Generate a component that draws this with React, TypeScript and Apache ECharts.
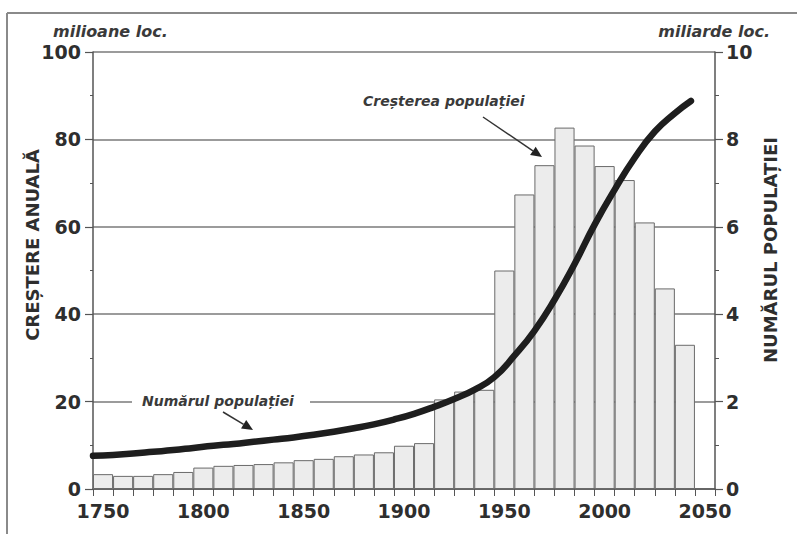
import React, { useEffect, useRef } from "react";
import * as echarts from "echarts";

const years = [
  "1750", "1760", "1770", "1780", "1790", "1800", "1810", "1820", "1830", "1840",
  "1850", "1860", "1870", "1880", "1890", "1900", "1910", "1920", "1930", "1940",
  "1950", "1960", "1970", "1980", "1990", "2000", "2010", "2020", "2030", "2040", "2050",
];
// annual growth, millions of people (left axis)
const growth = [
  3.4, 3.0, 3.0, 3.4, 3.9, 4.9, 5.3, 5.5, 5.7, 6.1,
  6.6, 6.9, 7.5, 7.9, 8.4, 9.9, 10.5, 20.5, 22.3, 22.7,
  50.0, 67.4, 74.1, 82.7, 78.6, 73.9, 70.7, 61.0, 45.9, 33.0,
];
// population, billions (right axis)
const popYears = [
  1745, 1755, 1765, 1775, 1785, 1795, 1805, 1815, 1825, 1835,
  1845, 1855, 1865, 1875, 1885, 1895, 1905, 1915, 1925, 1935,
  1945, 1955, 1965, 1975, 1985, 1995, 2005, 2015, 2025, 2035, 2043,
];
const popValues = [
  0.76, 0.78, 0.81, 0.85, 0.89, 0.94, 0.99, 1.03, 1.08, 1.13,
  1.18, 1.24, 1.31, 1.39, 1.48, 1.59, 1.72, 1.88, 2.06, 2.27,
  2.56, 3.05, 3.62, 4.33, 5.15, 6.05, 6.85, 7.58, 8.18, 8.6, 8.88,
];
const leftTicks = [0, 20, 40, 60, 80, 100];
const rightTicks = [0, 2, 4, 6, 8, 10];

const FONT = "'DejaVu Sans', 'Liberation Sans', Arial, sans-serif";
const TXT = "#2e2e2e";

export default function App() {
  const ref = useRef<HTMLDivElement>(null);
  useEffect(() => {
    document.body.style.margin = "0";
    const chart = echarts.init(ref.current!, null, { renderer: "svg" });
    const labelStyle = { fontFamily: FONT, fontWeight: "bold" as const, fontSize: 19, color: TXT };
    const annot = { fontFamily: FONT, fontWeight: "bold" as const, fontStyle: "italic" as const, fill: "#3a3a3a" };
    chart.setOption({
      animation: false,
      backgroundColor: "#ffffff",
      grid: { left: 93, right: 82, top: 52, bottom: 45, containLabel: false },
      xAxis: [
        {
          type: "category",
          data: years,
          boundaryGap: true,
          axisLine: { lineStyle: { color: "#555", width: 1.5 } },
          axisTick: { show: true, interval: 0, length: 7, lineStyle: { color: "#555", width: 1 } },
          axisLabel: { ...labelStyle, interval: 4, margin: 12 },
          splitLine: { show: false },
        },
        {
          type: "value",
          min: 1745,
          max: 2055,
          show: false,
        },
      ],
      yAxis: [
        {
          type: "value",
          min: 0,
          max: 100,
          interval: 20,
          position: "left",
          axisLine: { show: true, lineStyle: { color: "#555", width: 1.5 } },
          axisTick: { show: true, length: 8, lineStyle: { color: "#555", width: 1.2 } },
          minorTick: { show: true, splitNumber: 2, length: 3, lineStyle: { color: "#555" } },
          axisLabel: { ...labelStyle, margin: 12, formatter: (v: number) => (leftTicks.includes(v) ? String(v) : "") },
          splitLine: { show: true, lineStyle: { color: "#7a7a7a", width: 1.5 } },
        },
        {
          type: "value",
          min: 0,
          max: 10,
          interval: 2,
          position: "right",
          axisLine: { show: true, lineStyle: { color: "#555", width: 1.5 } },
          axisTick: { show: true, length: 8, lineStyle: { color: "#555", width: 1.2 } },
          minorTick: { show: true, splitNumber: 2, length: 4, lineStyle: { color: "#555" } },
          axisLabel: { ...labelStyle, margin: 11, formatter: (v: number) => (rightTicks.includes(v) ? String(v) : "") },
          splitLine: { show: false },
        },
      ],
      series: [
        {
          type: "bar",
          xAxisIndex: 0,
          yAxisIndex: 0,
          data: growth,
          barCategoryGap: "0%",
          barGap: "0%",
          itemStyle: { color: "#ececec", borderColor: "#6a6a6a", borderWidth: 1 },
        },
        {
          type: "line",
          xAxisIndex: 1,
          yAxisIndex: 1,
          data: popYears.map((y, i) => [y, popValues[i]]),
          smooth: 0.5,
          symbol: "none",
          lineStyle: { color: "#1e1e1e", width: 6.5, cap: "round", join: "round" },
          z: 5,
        },
      ],
      graphic: [
        { type: "line", shape: { x1: 7, y1: 13, x2: 797, y2: 13 }, style: { stroke: "#8a8a8a", lineWidth: 2 } },
        { type: "line", shape: { x1: 7, y1: 13, x2: 7, y2: 534 }, style: { stroke: "#8a8a8a", lineWidth: 2 } },
        {
          type: "text", x: 53, y: 31,
          style: { text: "milioane loc.", ...annot, fontSize: 16, textAlign: "left", textVerticalAlign: "middle" },
        },
        {
          type: "text", x: 770, y: 31,
          style: { text: "miliarde loc.", ...annot, fontSize: 16, textAlign: "right", textVerticalAlign: "middle" },
        },
        {
          type: "text", x: 32, y: 245, rotation: Math.PI / 2,
          style: { text: "CREȘTERE ANUALĂ", fontFamily: FONT, fontWeight: "bold", fontSize: 18, fill: TXT, textAlign: "center", textVerticalAlign: "middle" },
        },
        {
          type: "text", x: 770, y: 250, rotation: Math.PI / 2,
          style: { text: "NUMĂRUL POPULAȚIEI", fontFamily: FONT, fontWeight: "bold", fontSize: 18, fill: TXT, textAlign: "center", textVerticalAlign: "middle" },
        },
        { type: "rect", shape: { x: 132, y: 393, width: 178, height: 16 }, style: { fill: "#ffffff" }, z: 10 },
        {
          type: "text", x: 142, y: 401, z: 11,
          style: { text: "Numărul populației", ...annot, fontSize: 14, textAlign: "left", textVerticalAlign: "middle" },
        },
        { type: "line", shape: { x1: 223, y1: 412, x2: 243.6, y2: 424.3 }, style: { stroke: "#333", lineWidth: 1.5 }, z: 11 },
        { type: "polygon", shape: { points: [[253, 430], [241, 428.6], [246.2, 420]] }, style: { fill: "#222" }, z: 11 },
        {
          type: "text", x: 363, y: 101, z: 11,
          style: { text: "Creșterea populației", ...annot, fontSize: 14, textAlign: "left", textVerticalAlign: "middle" },
        },
        { type: "line", shape: { x1: 483, y1: 117, x2: 532.9, y2: 150.8 }, style: { stroke: "#333", lineWidth: 1.5 }, z: 11 },
        { type: "polygon", shape: { points: [[542, 157], [530.1, 154.9], [535.7, 146.7]] }, style: { fill: "#222" }, z: 11 },
      ],
    });
    return () => chart.dispose();
  }, []);
  return <div ref={ref} style={{ width: 797, height: 534 }} />;
}
